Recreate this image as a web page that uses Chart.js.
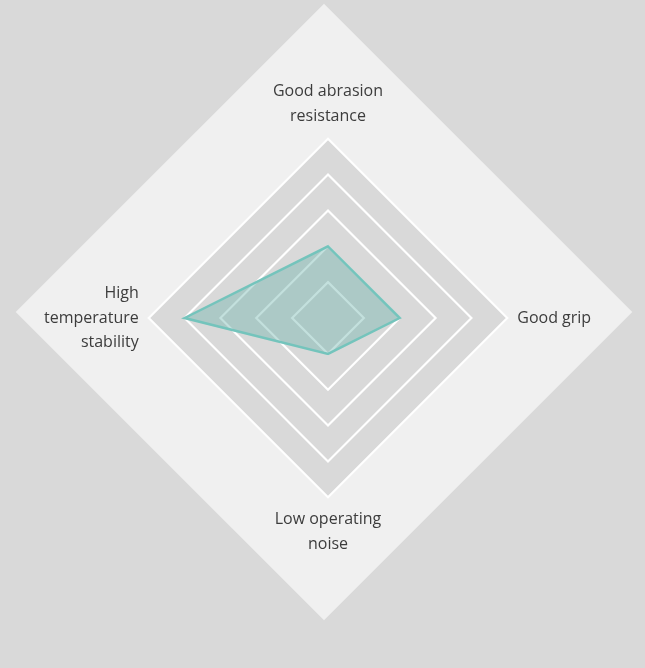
<!DOCTYPE html>
<html>
<head>
<meta charset="utf-8">
<script src="https://cdn.jsdelivr.net/npm/chart.js@4"></script>
<style>
    html, body { margin: 0; padding: 0; background: #d9d9d9; }
    #wrap { width: 645px; height: 668px; }
</style>
</head>
<body>
<div id="wrap"><canvas id="myChart"></canvas></div>
<script>
// Chart data
const categories = [
    ['Good abrasion', 'resistance'],
    'Good grip',
    ['Low operating', 'noise'],
    ['High', 'temperature', 'stability']
];
const ratings = [2, 2, 1, 4];
const scaleMax = 5;

// Background: grey page + big light diamond behind the grid
const diamondBg = {
    id: 'diamondBg',
    beforeDraw: (chart) => {
        const ctx = chart.ctx;
        const r = chart.scales.r;
        ctx.save();
        ctx.fillStyle = '#d9d9d9';
        ctx.fillRect(0, 0, chart.width, chart.height);
        const cx = r.xCenter - 4;
        const cy = r.yCenter - 6;
        const big = r.drawingArea * 1.72;
        ctx.fillStyle = '#f0f0f0';
        ctx.beginPath();
        ctx.moveTo(cx, cy - big);
        ctx.lineTo(cx + big, cy);
        ctx.lineTo(cx, cy + big);
        ctx.lineTo(cx - big, cy);
        ctx.closePath();
        ctx.fill();
        ctx.restore();
    }
};

const config = {
    type: 'radar',
    data: {
        labels: categories,
        datasets: [{
            data: ratings,
            borderColor: '#74c4bc',
            backgroundColor: 'rgba(105,178,170,0.4)',
            borderWidth: 2.5,
            pointRadius: 0,
            pointHoverRadius: 0
        }]
    },
    options: {
        responsive: true,
        maintainAspectRatio: false,
        animation: false,
        layout: {
            padding: { left: 34, right: 42, top: 31, bottom: 61 }
        },
        plugins: {
            legend: { display: false },
            tooltip: { enabled: false }
        },
        scales: {
            r: {
                min: 0,
                max: scaleMax,
                backgroundColor: '#d9d9d9',
                ticks: { display: false, stepSize: 1 },
                grid: { color: '#ffffff', lineWidth: 2.2 },
                angleLines: { display: false },
                pointLabels: {
                    color: '#3c3c3c',
                    padding: 10,
                    font: { family: 'Open Sans', size: 16, lineHeight: 1.55 }
                }
            }
        }
    },
    plugins: [diamondBg]
};

const graph = new Chart(document.getElementById('myChart'), config);
</script>
</body>
</html>
